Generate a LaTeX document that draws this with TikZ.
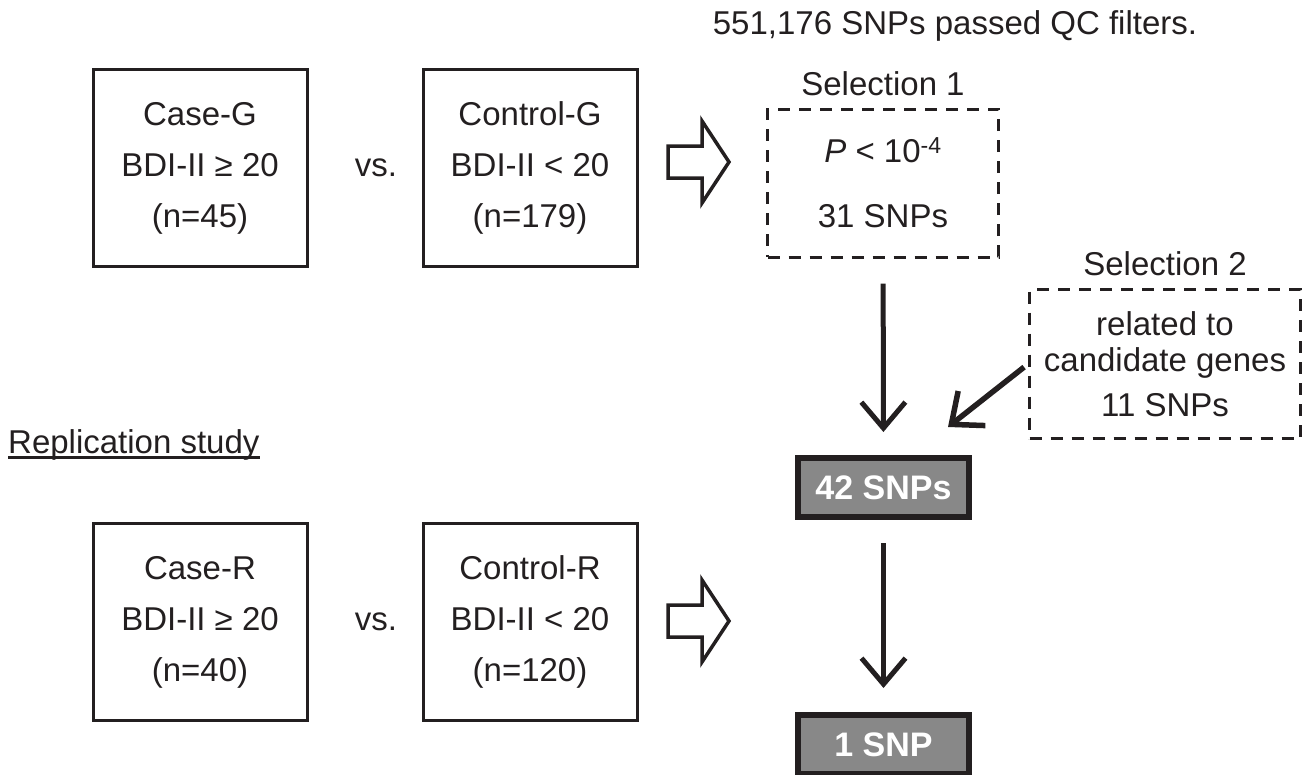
\documentclass[tikz,border=0pt]{standalone}
\usepackage{fontspec}
\setmainfont{Liberation Sans}
\usetikzlibrary{arrows.meta,positioning}

\definecolor{ink}{RGB}{35,31,32}
\definecolor{snpgray}{RGB}{136,136,136}

\tikzset{
  every node/.style={font=\fontsize{33}{51}\selectfont, text=ink},
  group/.style={draw=ink, line width=3pt, minimum width=214pt, minimum height=197pt, align=center, inner sep=0pt},
  selbox/.style={draw=ink, line width=3pt, dash pattern=on 12pt off 9pt, align=center, inner sep=0pt},
  result/.style={draw=ink, line width=6pt, fill=snpgray, text=white, font=\bfseries\fontsize{34}{36}\selectfont, minimum width=171pt, minimum height=59pt},
  hollow/.style={draw=ink, line width=3.5pt, line join=miter},
  flow/.style={draw=ink, line width=5pt, -{Straight Barb[length=26pt,width=44pt]}, shorten <=25pt, shorten >=23pt},
}

\begin{document}
\begin{tikzpicture}[x=1pt,y=-1pt]
    \useasboundingbox (0,0) rectangle (1313,774);

    % Add the study groups
    \node[group] (caseG) at (200,168) {Case-G\\BDI-II ≥ 20\\(n=45)};
    \node[group] (ctrlG) at (530,168) {Control-G\\BDI-II < 20\\(n=179)};
    \node        (vsG)   at (376,168) {vs.};
    \node[inner sep=0pt, anchor=base west] (rep) at (8,453) {Replication study};
    \draw[ink, line width=2.5pt] ([yshift=-4.5pt]rep.base west) -- ([yshift=-4.5pt]rep.base east);
    \node[group] (caseR) at (200,622) {Case-R\\BDI-II ≥ 20\\(n=40)};
    \node[group] (ctrlR) at (530,622) {Control-R\\BDI-II < 20\\(n=120)};
    \node        (vsR)   at (376,622) {vs.};

    % Hollow arrows towards the selection
    \foreach \yc in {162,621}
      \draw[hollow] (668,{\yc-16}) -- (702,{\yc-16}) -- (702,{\yc-41}) -- (729,\yc)
                    -- (702,{\yc+41}) -- (702,{\yc+16}) -- (668,{\yc+16}) -- cycle;

    % Add the selection steps
    \node (qc) at (955,26) {551,176 SNPs passed QC filters.};
    \node[selbox, minimum width=231pt, minimum height=148pt, font=\fontsize{33}{65}\selectfont]
      (sel1) at (883,183) {\textit{P} < 10\textsuperscript{-4}\\31 SNPs};
    \node[above=11pt of sel1, inner sep=0pt] (sel1lab) {Selection 1};
    \node[selbox, minimum width=271pt, minimum height=149pt, font=\fontsize{33}{36}\selectfont]
      (sel2) at (1165,364) {related to\\candidate genes\\[9pt]11 SNPs};
    \node[above=12pt of sel2, inner sep=0pt] (sel2lab) {Selection 2};
    \node[result] (snp42) at (883.5,487.5) {42 SNPs};
    \node[result] (snp1)  at (883.5,744.5) {1 SNP};
    \coordinate (sel2end) at (948,427);

    % Connect the steps with arrows
    \draw[flow] (sel1) -- (snp42);
    \draw[flow, shorten <=23pt, shorten >=24pt] (snp42) -- (snp1);
    \draw[flow, line width=5.5pt, shorten <=5pt, shorten >=0pt] (sel2.west) -- (sel2end);

\end{tikzpicture}
\end{document}
